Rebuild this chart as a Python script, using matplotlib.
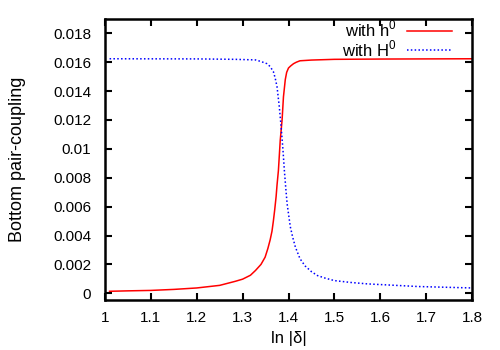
import numpy as np
import matplotlib
matplotlib.use("Agg")
import matplotlib.pyplot as plt

plt.rcParams['font.family'] = ['Liberation Sans', 'DejaVu Sans']
plt.rcParams['mathtext.fontset'] = 'custom'
plt.rcParams['mathtext.rm'] = 'Liberation Sans'

# values
x_h = [1.01, 1.05, 1.1, 1.15, 1.2, 1.25, 1.284, 1.3, 1.317, 1.328, 1.34, 1.349, 1.355,
       1.36, 1.364, 1.367, 1.370, 1.373, 1.375, 1.378, 1.382, 1.386, 1.389, 1.393, 1.396,
       1.4, 1.405, 1.411, 1.417, 1.425, 1.45, 1.5, 1.6, 1.7, 1.8]
y_h = [0.00014, 0.00017, 0.0002, 0.00027, 0.00037, 0.00055, 0.00083, 0.00098, 0.00125,
       0.00158, 0.0020, 0.0025, 0.0031, 0.0037, 0.0043, 0.0050, 0.0058, 0.0067, 0.0075,
       0.0085, 0.0106, 0.0120, 0.0136, 0.0148, 0.0153, 0.0156, 0.01575, 0.0159, 0.0160,
       0.0161, 0.01615, 0.0162, 0.01622, 0.01623, 0.01624]

x_H = [1.01, 1.2, 1.284, 1.328, 1.34, 1.353, 1.36, 1.367, 1.371, 1.375, 1.380, 1.384,
       1.388, 1.391, 1.394, 1.397, 1.40, 1.404, 1.409, 1.415, 1.425, 1.436, 1.45, 1.463,
       1.48, 1.5, 1.536, 1.573, 1.682, 1.8]
y_H = [0.01624, 0.01623, 0.0162, 0.01616, 0.01605, 0.0159, 0.0157, 0.01535, 0.0149,
       0.0143, 0.0129, 0.0115, 0.0099, 0.0085, 0.0073, 0.0062, 0.0055, 0.0046, 0.0039,
       0.0032, 0.0024, 0.0019, 0.0015, 0.00123, 0.00105, 0.00088, 0.00075, 0.00065,
       0.00047, 0.00037]

xticks = [1, 1.1, 1.2, 1.3, 1.4, 1.5, 1.6, 1.7, 1.8]
xlabels = ['1', '1.1', '1.2', '1.3', '1.4', '1.5', '1.6', '1.7', '1.8']
yticks = [0, 0.002, 0.004, 0.006, 0.008, 0.01, 0.012, 0.014, 0.016, 0.018]
ylabels = ['0', '0.002', '0.004', '0.006', '0.008', '0.01', '0.012', '0.014', '0.016', '0.018']

fig = plt.figure(figsize=(5, 3.5), dpi=100)
ax = fig.add_axes([0.21, 0.143, 0.734, 0.803])

ax.plot(x_h, y_h, color='#ff0000', lw=1.1, label=r'with h$^{0}$')
ax.plot(x_H, y_H, color='#0000ff', lw=1.1, ls=(0, (1, 1.5)), label=r'with H$^{0}$')

ax.set_xlim(1, 1.8)
ax.set_ylim(-0.00046, 0.019)
ax.set_xticks(xticks)
ax.set_xticklabels(xlabels)
ax.set_yticks(yticks)
ax.set_yticklabels(ylabels)
ax.tick_params(direction='in', length=5, width=1.5, top=True, right=True, labelsize=11)
ax.tick_params(axis='y', pad=10)
ax.tick_params(axis='x', pad=8)
for s in ax.spines.values():
    s.set_linewidth(1.8)

ax.set_xlabel('ln |δ|', fontsize=12, labelpad=4)
ax.set_ylabel('Bottom pair-coupling', fontsize=13)
ax.yaxis.set_label_coords(-0.215, 0.5)

ax.legend(loc='upper right', frameon=False, markerfirst=False, fontsize=12,
          handlelength=2.7, handletextpad=0.6, labelspacing=-0.05,
          borderaxespad=0, borderpad=0, bbox_to_anchor=(0.945, 1.0))

fig.savefig('out.png', dpi=100)
